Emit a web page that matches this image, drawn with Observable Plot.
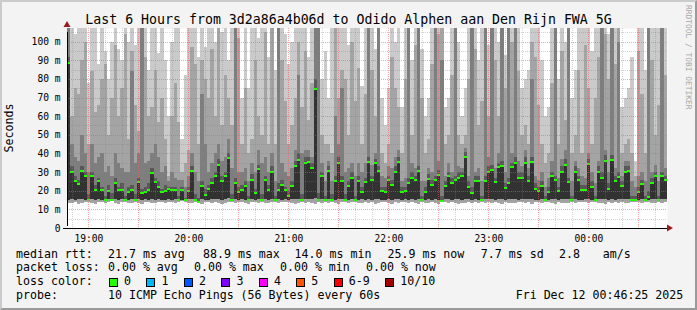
<!DOCTYPE html>
<html><head><meta charset="utf-8">
<script src="https://cdn.jsdelivr.net/npm/d3@7"></script>
<script src="https://cdn.jsdelivr.net/npm/@observablehq/plot@0.6"></script>
<style>
html,body{margin:0;padding:0;}
body{width:697px;height:310px;overflow:hidden;position:relative;}
#frame{position:absolute;left:0;top:0;width:697px;height:310px;box-sizing:border-box;background:#f3f3f3;border-top:2px solid #cbcbcb;border-left:2px solid #cbcbcb;border-right:2px solid #9a9a9a;border-bottom:2px solid #9a9a9a;}
.t{position:absolute;font-family:"DejaVu Sans Mono",monospace;white-space:pre;color:#000;}
#chart{position:absolute;left:0;top:0;}
.box{position:absolute;width:7px;height:7px;border:1px solid #000;}
</style></head><body>
<div id="frame"></div>
<div id="chart"></div>
<div id="overlay"></div>
<script>
// ---- data: 2-minute columns, 18:47 -> 00:47 (values in ms) ----
const med = [88.9,30.3,25.3,23.8,30.7,27.9,15.2,27.9,20.8,25.3,20.5,15.3,20.3,15.2,24.4,20.5,20.5,15.4,19.6,20.5,15.3,24.9,19.0,19.6,20.8,29.7,24.9,22.0,19.6,20.0,
21.2,20.5,20.5,15.4,20.5,15.1,20.3,30.7,15.4,14.2,22.6,18.0,21.0,24.4,27.9,34.2,25.3,27.9,37.8,15.4,24.4,19.6,20.8,22.6,15.1,26.2,19.0,32.1,15.4,25.8,
20.8,30.3,15.4,20.5,23.1,20.5,17.2,22.6,33.3,36.9,15.1,35.1,35.5,32.4,74.6,15.1,27.9,15.4,30.7,15.4,25.3,35.1,25.3,15.4,22.6,27.1,15.1,25.3,19.6,24.7,
35.5,25.8,35.1,30.7,19.9,19.6,25.8,23.1,30.3,35.5,19.6,19.9,24.4,27.1,25.8,30.7,15.4,19.6,26.5,23.5,25.8,28.5,14.5,22.6,27.9,24.4,25.8,27.1,27.9,38.3,
22.3,19.0,25.3,25.3,15.1,25.3,30.3,31.2,24.9,32.8,33.3,21.7,24.4,32.8,35.1,27.1,27.1,35.1,25.3,35.5,21.2,19.9,22.6,15.1,19.6,27.9,25.8,19.9,30.3,34.2,
24.7,15.1,30.3,25.8,20.5,20.5,34.6,22.0,15.1,30.3,27.1,36.0,21.2,36.6,25.3,27.4,22.6,30.3,30.7,15.1,15.1,19.6,23.8,15.1,16.7,24.4,27.9,15.1,27.9,25.9];
const low = [13.5,13.2,13.8,13.0,13.6,13.9,14.2,13.4,13.1,13.7,14.0,13.3,13.8,14.3,13.5,13.0,13.9,14.1,13.6,13.2,13.8,13.4,13.1,13.9,14.2,13.6,13.3,13.8,14.0,13.5,
13.8,14.1,13.5,13.9,14.3,13.7,13.2,13.6,14.0,13.4,12.9,13.7,14.1,13.3,13.8,13.5,13.0,13.6,13.9,14.2,13.4,13.8,14.0,13.5,13.1,13.7,14.1,13.3,13.9,13.6,
13.4,13.8,14.1,13.2,13.7,13.9,14.2,13.5,13.0,13.6,14.0,13.3,13.8,13.4,13.1,13.9,13.6,14.2,13.3,13.8,13.5,13.1,13.7,14.0,13.4,13.8,14.1,13.2,13.6,13.9,
13.3,13.7,13.0,13.5,13.9,14.2,13.6,13.1,13.8,13.4,14.0,13.7,13.2,13.9,13.5,13.0,14.1,13.6,13.3,13.8,13.4,13.1,14.0,13.7,13.2,13.9,13.5,13.0,13.6,13.3,
13.8,13.4,13.9,13.6,14.1,13.3,13.7,13.2,13.8,13.5,13.0,13.9,13.6,13.2,13.4,13.8,14.0,13.5,13.7,13.1,13.9,14.2,13.6,14.0,13.8,13.4,13.1,13.9,13.5,13.2,
13.6,14.1,13.4,13.8,13.9,14.2,13.5,13.7,14.0,13.3,13.6,13.1,13.9,13.4,13.8,13.5,13.7,13.2,13.6,14.1,14.2,13.9,13.5,14.0,13.8,13.4,13.6,14.1,13.3,13.7];
const p5 = [15.2,15.5,15.0,15.3,15.8,15.1,14.8,15.4,15.0,15.6,15.2,14.9,15.3,14.8,15.5,15.1,15.4,15.0,15.2,15.6,14.9,15.3,15.0,15.4,15.2,15.7,15.1,15.3,15.0,15.2,
15.3,15.1,15.4,15.0,15.2,14.8,15.3,15.6,15.0,14.0,15.4,15.2,15.1,15.5,15.3,15.8,15.2,15.4,15.9,15.0,15.3,15.1,15.4,15.2,14.8,15.5,15.1,15.6,15.0,15.3,
15.2,15.5,15.0,15.3,15.1,15.4,15.2,15.3,15.6,15.8,14.8,15.5,15.7,15.4,16.0,14.8,15.3,15.0,15.5,15.0,15.2,15.6,15.3,15.0,15.1,15.4,14.8,15.2,15.3,15.1,
15.6,15.2,15.5,15.3,15.1,15.0,15.4,15.2,15.5,15.7,15.1,15.3,15.2,15.4,15.1,15.5,15.0,15.2,15.3,15.1,15.4,15.2,14.3,15.3,15.5,15.1,15.3,15.4,15.2,15.8,
15.3,15.1,15.4,15.2,14.8,15.3,15.5,15.6,15.2,15.4,15.7,15.1,15.3,15.5,15.6,15.2,15.4,15.7,15.3,15.5,15.1,15.2,15.4,14.8,15.1,15.3,15.5,15.2,15.4,15.6,
15.3,14.8,15.5,15.2,15.1,15.3,15.6,15.2,14.8,15.4,15.3,15.7,15.1,15.6,15.2,15.4,15.3,15.5,15.4,14.8,14.8,15.2,15.3,14.8,15.0,15.3,15.4,14.8,15.5,15.3];
const p7 = [92,33,28,26,33,30,18,30,23,27,22,17,23,19,27,22,24,17,22,23,18,27,21,22,24,32,27,25,21,23,
22,22,22,17,22,16,22,33,18,16,25,21,23,27,30,37,28,30,40,18,27,22,23,25,17,29,21,34,18,28,
23,33,17,24,26,22,20,25,36,40,18,38,38,35,80,19,30,17,33,18,28,38,28,18,25,30,17,28,22,27,
38,28,37,33,22,22,28,26,33,38,22,22,27,30,28,33,17,22,29,26,28,31,17,25,30,27,28,30,30,41,
25,22,28,28,17,28,33,34,27,35,36,24,27,35,38,30,30,38,28,38,24,22,25,17,22,30,28,22,33,37,
27,17,33,28,23,23,37,25,17,33,30,39,24,39,28,30,25,33,33,17,17,22,26,17,20,27,30,17,30,28];
const p8 = [120,45,38,36,50,40,30,45,35,38,40,30,33,28,40,35,32,30,30,84,35,40,120,35,36,40,45,38,30,33,
25,30,27,26,26,22,28,40,30,25,72,45,30,35,40,45,36,38,48,32,110,30,30,32,25,35,30,42,35,38,
30,40,25,120,35,30,28,32,42,82,40,42,42,38,120,120,35,25,36,25,60,45,75,30,32,35,28,35,30,35,
120,34,40,120,28,27,33,32,38,42,25,27,110,35,32,120,25,25,32,30,120,36,90,28,35,30,120,33,32,43,
28,120,30,32,25,120,38,120,32,40,120,30,110,40,120,36,33,42,32,80,28,26,30,22,27,36,120,27,37,42,
120,25,36,32,28,27,40,30,24,36,120,42,30,120,32,100,28,36,36,25,22,28,30,25,120,30,34,25,120,32];
const p9 = [120,60,75,72,90,100,45,84,62,66,80,88,50,70,98,60,75,104,48,95,66,52,120,92,60,65,85,57,70,48,
28,60,78,57,30,35,42,97,88,45,90,80,70,96,60,120,55,82,70,55,120,102,45,75,40,48,90,60,50,105,
45,120,45,120,90,68,45,55,70,100,65,95,58,78,120,120,50,45,45,40,120,70,85,80,50,100,68,86,45,72,
120,85,60,120,40,35,45,92,75,65,40,80,120,50,98,120,70,40,48,88,120,104,120,45,50,82,120,50,45,50,
80,120,96,55,68,120,60,120,90,60,120,75,120,100,120,84,50,55,45,100,92,66,45,35,40,78,120,45,95,58,
120,40,50,85,40,98,75,45,70,92,120,104,80,120,88,120,40,45,48,40,28,95,72,40,120,90,50,66,120,82];
const p10 = [120,120,104,120,120,120,78,120,120,88,120,95,80,100,120,96,90,120,100,120,98,120,120,120,85,120,120,94,120,90,
60,100,120,120,48,82,120,120,120,92,120,97,120,120,100,120,105,120,90,120,120,120,70,120,75,120,120,102,120,120,
92,120,85,120,120,104,88,100,120,120,120,120,92,120,120,120,80,95,70,110,120,120,120,120,98,120,120,120,76,120,
120,120,96,120,70,55,75,120,100,110,65,120,120,90,120,120,96,60,70,120,120,120,120,65,70,120,120,100,60,75,
120,120,120,90,120,120,98,120,120,100,120,93,120,120,120,120,75,80,85,120,120,120,90,60,65,120,120,80,120,100,
120,70,85,120,110,120,120,95,120,120,120,120,104,120,120,120,65,70,75,92,36,120,120,85,120,120,110,120,120,120];

// ---- axes / labels ----
const xTickMinutes = [60,120,180,240,300,360];   // minutes after 18:00
const xTickLabels = ["19:00","20:00","21:00","22:00","23:00","00:00"];
const yTickValues = [0,10,20,30,40,50,60,70,80,90,100];
const yTickLabels = ["0","10 m","20 m","30 m","40 m","50 m","60 m","70 m","80 m","90 m","100 m"];
const title = "Last 6 Hours from 3d2a86a4b06d to Odido Alphen aan Den Rijn FWA 5G";
const yLabel = "Seconds";
const sideText = "RRDTOOL / TOBI OETIKER";
const medianStats = ["21.7 ms avg","88.9 ms max","14.0 ms min","25.9 ms now","7.7 ms sd","2.8","am/s"];
const lossStats = ["0.00 % avg","0.00 % max","0.00 % min","0.00 % now"];
const lossLabels = ["0","1","2","3","4","5","6-9","10/10"];
const lossColors = ["#26ff00","#00b8ff","#0059ff","#7e00ff","#ff00ff","#ff5500","#ff0000","#a10000"];
const probeText = "10 ICMP Echo Pings (56 Bytes) every 60s";
const dateText = "Fri Dec 12 00:46:25 2025";

// ---- layout ----
const T0 = 47.2, STEP = 2, T1 = T0 + STEP * med.length, YMAX = 107.3;
const rows = med.map((m, i) => ({t0: T0 + i*STEP, t1: T0 + (i+1)*STEP, med: m, low: low[i], p5: p5[i], p7: p7[i], p8: p8[i], p9: p9[i], p10: p10[i]}));
const smoke = [
  ["low","p10","#cacaca"], ["low","p9","#a4a4a4"], ["p5","p8","#7e7e7e"], ["p5","p7","#585858"], ["p5","med","#323232"]
];
const minorX = d3.range(50, T1, 10).filter(t => t % 30 !== 0);
const majorX = d3.range(60, T1, 30);
const minorY = d3.range(5, YMAX, 10);
const majorY = d3.range(10, YMAX, 10);
const MONO = "DejaVu Sans Mono";

const chart = Plot.plot({
  width: 697, height: 250,
  marginLeft: 67, marginRight: 30, marginTop: 28, marginBottom: 22,
  x: {domain: [T0, T1], axis: null},
  y: {domain: [0, YMAX], axis: null},
  style: {background: "transparent", overflow: "visible"},
  marks: [
    Plot.frame({fill: "white", stroke: null}),
    ...smoke.map(([a, b, c]) => Plot.rect(rows, {x1: "t0", x2: "t1", y1: a, y2: b, fill: c, clip: true, shapeRendering: "crispEdges"})),
    Plot.ruleY(rows, {x1: "t0", x2: "t1", y: "med", stroke: "#26ff00", strokeWidth: 2, clip: true, shapeRendering: "crispEdges"}),
    Plot.ruleX(minorX, {stroke: "#808080", strokeOpacity: 0.35, strokeDasharray: "1,1", shapeRendering: "crispEdges"}),
    Plot.ruleY(minorY, {stroke: "#808080", strokeOpacity: 0.35, strokeDasharray: "1,1", shapeRendering: "crispEdges"}),
    Plot.ruleX(majorX, {stroke: "#ff5050", strokeOpacity: 0.55, strokeDasharray: "1,1", shapeRendering: "crispEdges"}),
    Plot.ruleY(majorY, {stroke: "#ff5050", strokeOpacity: 0.55, strokeDasharray: "1,1", shapeRendering: "crispEdges"}),
    Plot.ruleY([0], {x1: T0, x2: T1, stroke: "#000", insetLeft: -4, insetRight: -3, shapeRendering: "crispEdges"}),
    Plot.ruleX([T0], {y1: 0, y2: YMAX, stroke: "#000", insetBottom: -4, insetTop: -2, shapeRendering: "crispEdges"}),
    Plot.text(yTickValues, {x: T0, y: d => d, text: (d, i) => yTickLabels[i], textAnchor: "end", dx: -7, fontFamily: MONO, fontSize: 9.6, fill: "#000"}),
    Plot.text(xTickMinutes, {x: d => d, y: 0, text: (d, i) => xTickLabels[i], dy: 10, fontFamily: MONO, fontSize: 9.6, fill: "#000"})
  ]
});
document.getElementById("chart").appendChild(chart);

// axis arrows, placed via the plot's scales
const sx = chart.scale("x"), sy = chart.scale("y");
const svg = d3.select(chart);
const ax = sx.apply(T1), ay = sy.apply(0), tx = sx.apply(T0), ty = sy.apply(YMAX);
svg.append("path").attr("d", `M${ax},${ay-3.5}L${ax+6},${ay}L${ax},${ay+3.5}Z`).attr("fill", "#9b1c1c");
svg.append("path").attr("d", `M${tx-3.5},${ty-1}L${tx},${ty-7}L${tx+3.5},${ty-1}Z`).attr("fill", "#9b1c1c");

// ---- html texts ----
const ov = document.getElementById("overlay");
function txt(s, left, top, size, extra) {
  const d = document.createElement("div");
  d.className = "t"; d.textContent = s;
  d.style.left = left + "px"; d.style.top = top + "px";
  d.style.fontSize = size + "px"; d.style.lineHeight = size + "px";
  if (extra) Object.assign(d.style, extra);
  ov.appendChild(d); return d;
}
txt(title, 0, 12.8, 13.25, {width: "697px", textAlign: "center"});
txt(yLabel, 10, 128, 11.6, {transform: "translate(-50%,-50%) rotate(-90deg)"});
txt(sideText, 684, 5, 7.9, {writingMode: "vertical-rl", color: "#a8a8a8"});

const FS = 11.6, CW = 6.97;
const rowTop = [248.5, 262.2, 276.2, 290.2];
txt("median rtt:", 16, rowTop[0], FS);
const medX = [108, 203, 294.6, 387.5, 480.8, 559, 602.7];
medianStats.forEach((s, i) => txt(s, medX[i], rowTop[0], FS));
txt("packet loss:", 16, rowTop[1], FS);
const lossX = [108, 194, 280, 366];
lossStats.forEach((s, i) => txt(s, lossX[i], rowTop[1], FS));
txt("loss color:", 16, rowTop[2], FS);
let cur = 109;
lossLabels.forEach((s, i) => {
  const b = document.createElement("div");
  b.className = "box"; b.style.left = cur + "px"; b.style.top = (rowTop[2] + 1.5) + "px";
  b.style.background = lossColors[i];
  ov.appendChild(b);
  txt(s, cur + 15, rowTop[2], FS);
  cur = cur + 15 + s.length * CW + 15.5;
});
txt("probe:", 16, rowTop[3], FS);
txt(probeText, 108, rowTop[3], FS);
txt(dateText, 683 - dateText.length * CW, rowTop[3], FS);
</script>
</body></html>
